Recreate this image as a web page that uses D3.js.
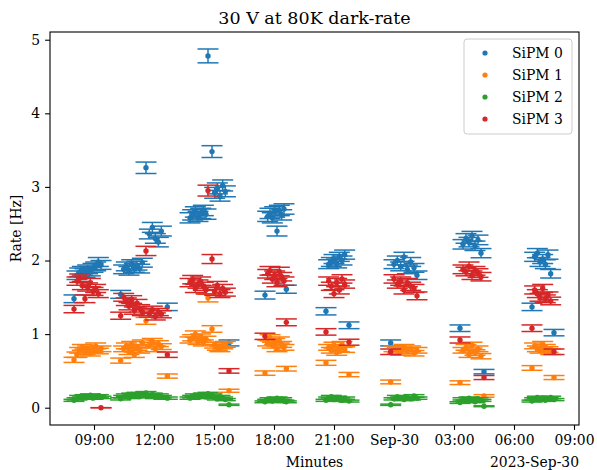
<!DOCTYPE html>
<html>
<head>
<meta charset="utf-8">
<script src="https://cdn.jsdelivr.net/npm/d3@7"></script>
<style>
  body { margin: 0; background: #fff; }
  svg { display: block; }
  text { font-family: "DejaVu Serif", serif; fill: #000; }
</style>
</head>
<body>
<svg id="chart" width="597" height="470"></svg>
<script>
// Measurement timestamps (UTC), one per acquisition run
const timeStamps = [
  // morning run
  "2023-09-29 08:00","2023-09-29 08:09","2023-09-29 08:17","2023-09-29 08:25","2023-09-29 08:33","2023-09-29 08:41",
  "2023-09-29 08:49","2023-09-29 08:57","2023-09-29 09:05","2023-09-29 09:13","2023-09-29 09:21",
  // late morning run
  "2023-09-29 10:20","2023-09-29 10:29","2023-09-29 10:37","2023-09-29 10:45","2023-09-29 10:53","2023-09-29 11:01",
  "2023-09-29 11:09","2023-09-29 11:17","2023-09-29 11:25","2023-09-29 11:36","2023-09-29 11:46","2023-09-29 11:55",
  "2023-09-29 12:04","2023-09-29 12:13","2023-09-29 12:22","2023-09-29 12:40",
  // afternoon run
  "2023-09-29 13:48","2023-09-29 13:56","2023-09-29 14:04","2023-09-29 14:12","2023-09-29 14:20","2023-09-29 14:28",
  "2023-09-29 14:36","2023-09-29 14:42","2023-09-29 14:54","2023-09-29 15:02","2023-09-29 15:10","2023-09-29 15:18",
  "2023-09-29 15:26","2023-09-29 15:34","2023-09-29 15:45",
  // evening run
  "2023-09-29 17:33","2023-09-29 17:41","2023-09-29 17:48","2023-09-29 17:55","2023-09-29 18:02","2023-09-29 18:09",
  "2023-09-29 18:16","2023-09-29 18:23","2023-09-29 18:30","2023-09-29 18:37",
  // night run
  "2023-09-29 20:36","2023-09-29 20:44","2023-09-29 20:52","2023-09-29 21:00","2023-09-29 21:08","2023-09-29 21:16",
  "2023-09-29 21:24","2023-09-29 21:32","2023-09-29 21:45",
  // midnight run
  "2023-09-29 23:50","2023-09-30 00:00","2023-09-30 00:10","2023-09-30 00:20","2023-09-30 00:30","2023-09-30 00:40",
  "2023-09-30 00:50","2023-09-30 01:00","2023-09-30 01:09",
  // early morning run
  "2023-09-30 03:18","2023-09-30 03:27","2023-09-30 03:36","2023-09-30 03:45","2023-09-30 03:54","2023-09-30 04:03",
  "2023-09-30 04:12","2023-09-30 04:21","2023-09-30 04:30",
  // dawn run
  "2023-09-30 06:54","2023-09-30 07:02","2023-09-30 07:10","2023-09-30 07:18","2023-09-30 07:26","2023-09-30 07:34",
  "2023-09-30 07:42","2023-09-30 07:50","2023-09-30 08:00"
];

// Dark rates [Hz] per SiPM, aligned with timeStamps
const sipm0 = [
  1.48, 1.80, 1.84, 1.86, 1.83, 1.88, 1.85, 1.90, 1.92, 1.98, 1.94,
  1.54, 1.88, 1.92, 1.86, 1.95, 1.90, 1.93, 1.89, 1.97, 3.26, 2.36, 2.45, 2.30, 2.25, 2.40, 1.37,
  2.58, 2.62, 2.66, 2.60, 2.64, 2.68, 2.63, 4.78, 3.48, 2.92, 2.98, 2.88, 3.02, 2.94, 0.88,
  1.53, 2.60, 2.64, 2.58, 2.66, 2.40, 2.68, 2.62, 2.70, 1.61,
  1.31, 1.95, 1.98, 2.02, 1.96, 2.05, 2.00, 2.08, 1.12,
  0.88, 1.95, 2.00, 1.92, 2.05, 1.88, 1.98, 1.90, 1.80,
  1.08, 2.22, 2.30, 2.25, 2.33, 2.20, 2.28, 2.10, 0.49,
  1.37, 2.05, 2.10, 1.98, 2.02, 1.95, 2.08, 1.82, 1.02
];
const sipm1 = [
  0.65, 0.72, 0.78, 0.82, 0.76, 0.80, 0.74, 0.79, 0.84, 0.77, 0.80,
  0.64, 0.80, 0.84, 0.76, 0.86, 0.72, 0.82, 0.78, 0.88, 1.18, 0.85, 0.90, 0.80, 0.87, 0.83, 0.43,
  0.92, 0.95, 1.00, 0.90, 0.96, 0.88, 0.93, 1.49, 1.07, 0.85, 0.82, 0.80, 0.84, 0.86, 0.23,
  0.47, 0.88, 0.95, 0.85, 0.90, 0.80, 0.92, 0.86, 0.82, 0.53,
  0.61, 0.82, 0.78, 0.85, 0.75, 0.80, 0.86, 0.79, 0.45,
  0.35, 0.80, 0.78, 0.75, 0.82, 0.77, 0.80, 0.74, 0.78,
  0.34, 0.78, 0.82, 0.72, 0.85, 0.75, 0.80, 0.70, 0.16,
  0.54, 0.84, 0.80, 0.78, 0.86, 0.82, 0.79, 0.76, 0.41
];
const sipm2 = [
  0.10, 0.12, 0.15, 0.13, 0.16, 0.14, 0.17, 0.13, 0.15, 0.16, 0.14,
  0.12, 0.15, 0.17, 0.14, 0.18, 0.16, 0.19, 0.15, 0.17, 0.20, 0.16, 0.18, 0.14, 0.17, 0.15, 0.13,
  0.13, 0.15, 0.17, 0.14, 0.16, 0.18, 0.15, 0.19, 0.17, 0.14, 0.12, 0.15, 0.13, 0.11, 0.04,
  0.08, 0.10, 0.12, 0.09, 0.11, 0.13, 0.10, 0.12, 0.09, 0.08,
  0.10, 0.13, 0.15, 0.11, 0.14, 0.12, 0.10, 0.13, 0.09,
  0.04, 0.12, 0.15, 0.13, 0.11, 0.14, 0.12, 0.16, 0.13,
  0.07, 0.12, 0.09, 0.13, 0.11, 0.08, 0.12, 0.10, 0.02,
  0.09, 0.12, 0.14, 0.11, 0.13, 0.10, 0.12, 0.14, 0.11
];
const sipm3 = [
  1.34, 1.72, 1.76, 1.66, 1.48, 1.64, 1.70, 1.58, 1.62, 1.55, 0.00,
  1.25, 1.50, 1.44, 1.38, 1.47, 1.32, 1.42, 1.35, 1.30, 2.13, 1.28, 1.33, 1.24, 1.30, 1.27, 0.72,
  1.70, 1.74, 1.62, 1.68, 1.72, 1.65, 1.60, 2.95, 2.02, 1.58, 1.66, 1.55, 1.62, 1.57, 0.50,
  0.97, 1.82, 1.86, 1.75, 1.80, 1.70, 1.85, 1.78, 1.72, 1.16,
  1.03, 1.72, 1.65, 1.55, 1.70, 1.60, 1.75, 1.68, 0.89,
  0.76, 1.75, 1.68, 1.72, 1.60, 1.70, 1.65, 1.62, 1.52,
  0.92, 1.88, 1.85, 1.92, 1.80, 1.86, 1.83, 1.78, 0.41,
  1.08, 1.60, 1.55, 1.50, 1.62, 1.48, 1.52, 1.45, 0.76
];

const seriesNames = ["SiPM 0", "SiPM 1", "SiPM 2", "SiPM 3"];
const seriesColors = ["#1f77b4", "#ff7f0e", "#2ca02c", "#d62728"];
const yTickValues = [0, 1, 2, 3, 4, 5];
const xTickStamps = [
  "2023-09-29 09:00","2023-09-29 12:00","2023-09-29 15:00","2023-09-29 18:00","2023-09-29 21:00",
  "2023-09-30 00:00","2023-09-30 03:00","2023-09-30 06:00","2023-09-30 09:00"
];
const xDomainStamps = ["2023-09-29 06:48", "2023-09-30 09:15"];
const yDomain = [-0.235, 5.105];
// Counting time per point; rate uncertainty is Poisson: sqrt(rate / T)
const exposureSeconds = 540;

const parse = d3.utcParse("%Y-%m-%d %H:%M");
const times = timeStamps.map(parse);
const seriesValues = [sipm0, sipm1, sipm2, sipm3];

const svg = d3.select("#chart");
const margin = { left: 50, right: 579, top: 32, bottom: 425 };

const x = d3.scaleUtc()
  .domain(xDomainStamps.map(parse))
  .range([margin.left, margin.right]);
const y = d3.scaleLinear()
  .domain(yDomain)
  .range([margin.bottom, margin.top]);

// Axes
const tickLen = 4.9;
const fmtTick = d => (d.getUTCHours() === 0 && d.getUTCMinutes() === 0)
  ? d3.utcFormat("%b-%d")(d) : d3.utcFormat("%H:%M")(d);

const gx = svg.append("g")
  .attr("transform", `translate(0,${margin.bottom})`)
  .call(d3.axisBottom(x).tickValues(xTickStamps.map(parse)).tickFormat(fmtTick)
    .tickSize(tickLen).tickSizeOuter(0).tickPadding(4.9));
const gy = svg.append("g")
  .attr("transform", `translate(${margin.left},0)`)
  .call(d3.axisLeft(y).tickValues(yTickValues).tickFormat(d3.format("d"))
    .tickSize(tickLen).tickSizeOuter(0).tickPadding(4.9));
[gx, gy].forEach(g => {
  g.select(".domain").remove();
  g.selectAll(".tick line").attr("stroke", "#000").attr("stroke-width", 1.1);
  g.selectAll(".tick text").style("font-family", "'DejaVu Serif', serif")
    .style("font-size", "13.9px").attr("fill", "#000");
});

// Error bars with caps, one series after another
const capHalf = 10.5;
const plot = svg.append("g");
seriesValues.forEach((vals, si) => {
  const color = seriesColors[si];
  const pts = vals.map((v, i) => ({ t: times[i], v, e: Math.sqrt(v / exposureSeconds) }));
  const g = plot.append("g").attr("stroke", color).attr("stroke-width", 1.5).attr("fill", "none");
  const items = g.selectAll("g.pt").data(pts).join("g").attr("class", "pt");
  items.append("line")
    .attr("x1", d => x(d.t)).attr("x2", d => x(d.t))
    .attr("y1", d => y(d.v - d.e)).attr("y2", d => y(d.v + d.e));
  items.append("line")
    .attr("x1", d => x(d.t) - capHalf).attr("x2", d => x(d.t) + capHalf)
    .attr("y1", d => y(d.v - d.e)).attr("y2", d => y(d.v - d.e));
  items.append("line")
    .attr("x1", d => x(d.t) - capHalf).attr("x2", d => x(d.t) + capHalf)
    .attr("y1", d => y(d.v + d.e)).attr("y2", d => y(d.v + d.e));
  items.append("circle")
    .attr("cx", d => x(d.t)).attr("cy", d => y(d.v)).attr("r", 2.7)
    .attr("fill", color).attr("stroke", "none");
});

// Frame
svg.append("rect")
  .attr("x", margin.left).attr("y", margin.top)
  .attr("width", margin.right - margin.left).attr("height", margin.bottom - margin.top)
  .attr("fill", "none").attr("stroke", "#000").attr("stroke-width", 1.1);

// Title and labels
svg.append("text").attr("x", (margin.left + margin.right) / 2).attr("y", 24)
  .attr("text-anchor", "middle").style("font-size", "17.5px").text("30 V at 80K dark-rate");
svg.append("text").attr("x", (margin.left + margin.right) / 2).attr("y", 467)
  .attr("text-anchor", "middle").style("font-size", "13.9px").text("Minutes");
svg.append("text").attr("x", margin.right).attr("y", 467)
  .attr("text-anchor", "end").style("font-size", "13.9px").text("2023-Sep-30");
svg.append("text")
  .attr("transform", `translate(21,${(margin.top + margin.bottom) / 2}) rotate(-90)`)
  .attr("text-anchor", "middle").style("font-size", "13.9px").text("Rate [Hz]");

// Legend
const lg = svg.append("g");
lg.append("rect").attr("x", 464).attr("y", 39).attr("width", 108).attr("height", 95)
  .attr("rx", 3).attr("fill", "#fff").attr("fill-opacity", 0.8)
  .attr("stroke", "#cccccc").attr("stroke-width", 1);
seriesNames.forEach((name, i) => {
  const cy = 53 + i * 22;
  lg.append("circle").attr("cx", 485).attr("cy", cy).attr("r", 2.6).attr("fill", seriesColors[i]);
  lg.append("text").attr("x", 512).attr("y", cy + 5).style("font-size", "13.9px").text(name);
});
</script>
</body>
</html>
